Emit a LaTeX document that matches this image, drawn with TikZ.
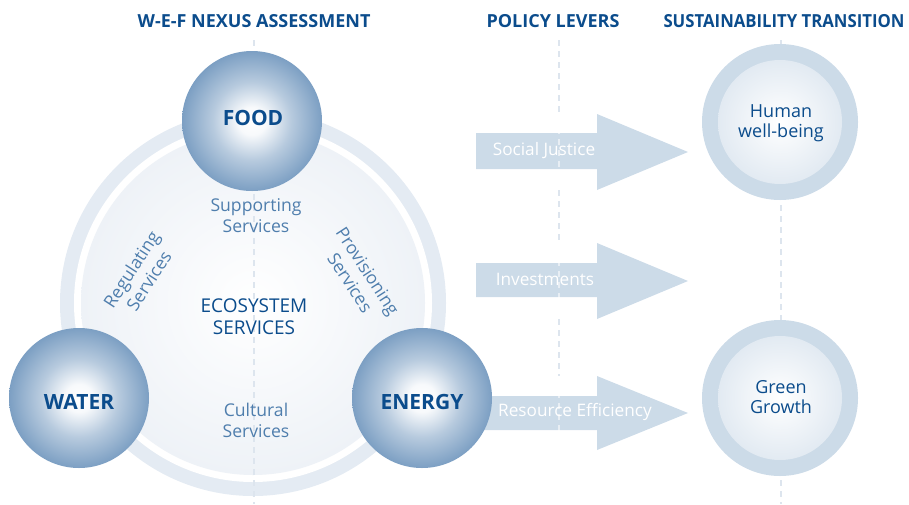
\documentclass[tikz,border=0pt]{standalone}
\usepackage{fontspec}
\setmainfont{Open Sans}
\definecolor{dblue}{HTML}{0B4C8C}
\definecolor{mblue}{HTML}{4F7EAD}
\definecolor{sb}{HTML}{7C9FC3}
\definecolor{ringc}{HTML}{E4EBF3}
\definecolor{discc}{HTML}{EEF2F7}
\definecolor{arrowc}{HTML}{CCDBE8}
\definecolor{dashc}{HTML}{DDE5EE}
\definecolor{rdisc}{HTML}{E2EAF2}
\pgfdeclareradialshading{sphereshade}{\pgfpoint{0bp}{0bp}}{color(0bp)=(white); color(5bp)=(white!94!sb); color(14bp)=(sb!55!white); color(25bp)=(sb); color(50bp)=(sb)}
\pgfdeclareradialshading{discshade}{\pgfpoint{0bp}{0bp}}{color(0bp)=(white); color(25bp)=(discc); color(50bp)=(discc)}
\pgfdeclareradialshading{rdiscshade}{\pgfpoint{0bp}{0bp}}{color(0bp)=(white); color(25bp)=(rdisc); color(50bp)=(rdisc)}
\tikzset{
  heading/.style={font=\bfseries\fontsize{18}{20}\selectfont, text=dblue},
  sphere/.style={circle, minimum size=140pt, inner sep=0pt, shading=sphereshade},
  spheretext/.style={font=\bfseries\fontsize{21}{24}\selectfont, text=dblue, inner sep=0pt},
  service/.style={align=center, font=\fontsize{17.6}{21}\selectfont, text=mblue},
  ecolabel/.style={align=center, font=\fontsize{19}{22}\selectfont, text=dblue},
  goalring/.style={circle, minimum size=156pt, inner sep=0pt, fill=arrowc},
  goaldisc/.style={circle, minimum size=124pt, inner sep=0pt, shading=rdiscshade},
  goaltext/.style={align=center, font=\fontsize{18}{20.5}\selectfont, text=dblue, inner sep=0pt},
  leverarrow/.style={fill=arrowc},
  leverlabel/.style={font=\fontsize{17.2}{20}\selectfont, text=white},
  guide/.style={draw=dashc, line width=1.3pt, dash pattern=on 6pt off 5pt}
}
\begin{document}
\begin{tikzpicture}[x=1pt,y=-1pt]
\useasboundingbox (0,0) rectangle (909,504);
% headings
\node[heading] (h1) at (254,21) {W-E-F NEXUS ASSESSMENT};
\node[heading] (h2) at (553,21) {POLICY LEVERS};
\node[heading] (h3) at (784,21) {\scalebox{0.93}[1]{SUSTAINABILITY TRANSITION}};
% big ring and disc
\coordinate (eco) at (253,303);
\fill[ringc] (eco) circle (193);
\fill[white] (eco) circle (179);
\shade[shading=discshade] (eco) circle (172);
% guides
\draw[guide] (254,40) -- (254,504);
\draw[guide] (781,40) -- (781,504);
% service labels
\node[service] (sup) at (256,216) {Supporting\\Services};
\node[service] (cul) at (256,420) {Cultural\\Services};
\node[service, rotate=57] (reg) at (140,275) {Regulating\\Services};
\node[service, rotate=-57] (pro) at (359,277) {Provisioning\\Services};
\node[ecolabel] (es) at (254,317) {ECOSYSTEM\\SERVICES};
% policy arrows
\fill[leverarrow] (476,133) -- (597,133) -- (597,114) -- (688,152) -- (597,190) -- (597,169) -- (476,169) -- cycle;
\fill[leverarrow] (476,263) -- (597,263) -- (597,243) -- (688,281) -- (597,319) -- (597,297) -- (476,297) -- cycle;
\fill[leverarrow] (470,396) -- (597,396) -- (597,376) -- (688,413) -- (597,450) -- (597,430) -- (470,430) -- cycle;
\draw[guide, draw=white, opacity=0.55] (559,40) -- (559,440);
\draw[guide] (559,40) -- (559,114);
\draw[guide] (559,190) -- (559,243);
\draw[guide] (559,319) -- (559,376);
\node[leverlabel] (sj) at (544,151) {Social Justice};
\node[leverlabel] (inv) at (545,279) {Investments};
% spheres
\node[sphere] (food) at (252,121) {};
\node[sphere] (water) at (79,398) {};
\node[sphere] (energy) at (422,398) {};
\node[spheretext] (foodt) at (253,118) {FOOD};
\node[spheretext] (watert) at (79,402) {WATER};
\node[spheretext] (energyt) at (422,402) {ENERGY};
\node[leverlabel] (re) at (575,412) {Resource Efficiency};
% goals
\node[goalring] (hwr) at (780,122) {};
\node[goaldisc] (hw) at (hwr) {};
\node[goaltext] (hwt) at (781,123) {Human\\well-being};
\node[goalring] (ggr) at (780,398) {};
\node[goaldisc] (gg) at (ggr) {};
\node[goaltext] (ggt) at (781,397) {Green\\Growth};
\end{tikzpicture}
\end{document}
